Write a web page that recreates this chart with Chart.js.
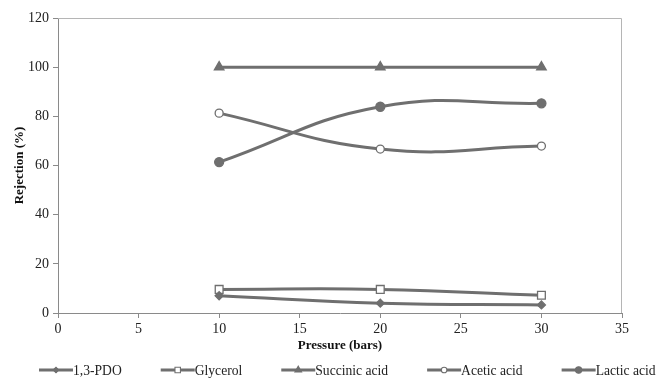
<!DOCTYPE html>
<html>
<head>
<meta charset="utf-8">
<script src="https://cdn.jsdelivr.net/npm/chart.js"></script>
<style>
  html, body { margin: 0; padding: 0; background: #fff; }
  #wrap { width: 659px; height: 379px; }
</style>
</head>
<body>
<div id="wrap"><canvas id="c" width="659" height="379"></canvas></div>
<script>
// pressure (bars)
const pressure = [10, 20, 30];

// rejection (%)
const pdo = [7.0, 4.0, 3.3];
const glycerol = [9.6, 9.6, 7.2];
const succinic = [100, 100, 100];
const acetic = [81.3, 66.7, 67.9];
const lactic = [61.4, 83.9, 85.3];

const xTicks = [0, 5, 10, 15, 20, 25, 30, 35];
const yTicks = [0, 20, 40, 60, 80, 100, 120];

const LINE = '#6f6f6f';
const FONT = 'Liberation Serif';

function series(label, data, style, radius, fill) {
  return {
    label: label,
    data: pressure.map((p, i) => ({ x: p, y: data[i] })),
    borderColor: LINE,
    borderWidth: 3,
    tension: 0.45,
    pointStyle: style,
    pointRadius: radius,
    pointBackgroundColor: fill,
    pointBorderColor: LINE,
    pointBorderWidth: 1.3
  };
}

const datasets = [
  series('1,3-PDO', pdo, 'rectRot', 4, LINE),
  series('Glycerol', glycerol, 'rect', 5.5, '#ffffff'),
  series('Succinic acid', succinic, 'triangle', 5.5, LINE),
  series('Acetic acid', acetic, 'circle', 4, '#ffffff'),
  series('Lactic acid', lactic, 'circle', 4.5, LINE)
];

// plot-area frame (top/right) like the spreadsheet original
const frame = {
  id: 'frame',
  beforeDatasetsDraw(chart) {
    const a = chart.chartArea, g = chart.ctx;
    g.save();
    g.strokeStyle = '#b5b5b5';
    g.lineWidth = 1;
    g.beginPath();
    g.moveTo(a.left, a.top + 0.5);
    g.lineTo(a.right - 0.5, a.top + 0.5);
    g.lineTo(a.right - 0.5, a.bottom);
    g.stroke();
    g.restore();
  }
};

// legend: line + marker, text right after, in one row
const lineLegend = {
  id: 'lineLegend',
  afterDraw(chart) {
    const g = chart.ctx;
    const y = 370, lineLen = 34, gap = 39;
    let x = 39;
    g.save();
    g.font = '13.6px ' + FONT;
    g.textBaseline = 'middle';
    g.textAlign = 'left';
    chart.data.datasets.forEach(d => {
      g.strokeStyle = LINE;
      g.lineWidth = 3;
      g.beginPath(); g.moveTo(x, y); g.lineTo(x + lineLen, y); g.stroke();
      g.fillStyle = d.pointBackgroundColor;
      g.strokeStyle = LINE;
      g.lineWidth = 1.1;
      Chart.helpers.drawPoint(g, { pointStyle: d.pointStyle, radius: d.pointRadius * 0.7, borderWidth: 1.1 }, x + lineLen / 2, y);
      g.fillStyle = '#222';
      g.fillText(d.label, x + lineLen, y + 1);
      x += lineLen + g.measureText(d.label).width + gap;
    });
    g.restore();
  }
};

new Chart(document.getElementById('c'), {
  type: 'line',
  data: { datasets: datasets },
  plugins: [frame, lineLegend],
  options: {
    animation: false,
    responsive: false,
    layout: { padding: { left: 0, right: 37, top: 18, bottom: 20 } },
    plugins: {
      tooltip: { enabled: false },
      legend: { display: false }
    },
    scales: {
      x: {
        type: 'linear',
        min: 0, max: 35,
        afterBuildTicks(s) { s.ticks = xTicks.map(v => ({ value: v })); },
        afterFit(s) { s.height = 46; },
        ticks: { font: { family: FONT, size: 14 }, color: '#222', padding: 3 },
        grid: { drawOnChartArea: false, drawTicks: true, tickLength: 5, color: '#8a8a8a' },
        border: { color: '#8a8a8a', width: 1 },
        title: { display: true, text: 'Pressure (bars)', font: { family: FONT, size: 13, weight: 'bold' }, color: '#111', padding: { top: 0, bottom: 6 } }
      },
      y: {
        min: 0, max: 120,
        afterBuildTicks(s) { s.ticks = yTicks.map(v => ({ value: v })); },
        afterFit(s) { s.width = 58; },
        ticks: { font: { family: FONT, size: 14 }, color: '#222', padding: 4 },
        grid: { drawOnChartArea: false, drawTicks: true, tickLength: 5, color: '#8a8a8a' },
        border: { color: '#8a8a8a', width: 1 },
        title: { display: true, text: 'Rejection (%)', font: { family: FONT, size: 13, weight: 'bold' }, color: '#111', padding: { top: 12, bottom: 0 } }
      }
    }
  }
});
</script>
</body>
</html>
